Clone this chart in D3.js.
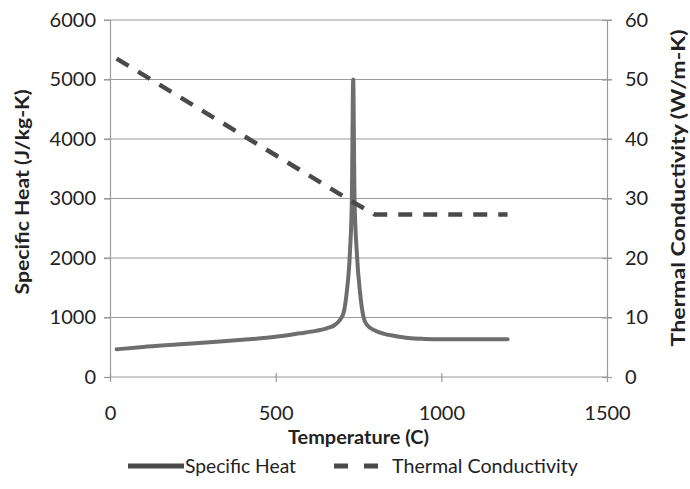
<!DOCTYPE html>
<html>
<head>
<meta charset="utf-8">
<script src="https://cdn.jsdelivr.net/npm/d3@7"></script>
<style>
  html, body { margin: 0; padding: 0; background: #fff; }
  svg { display: block; }
  text { font-family: Lato, "Open Sans", sans-serif; fill: #222; }
</style>
</head>
<body>
<svg id="chart" width="690" height="489"></svg>
<script>
// ---- data ----
const cpTemps = [20, 100, 200, 300, 400, 500, 573, 620, 654, 680, 694, 705, 714, 724, 730, 734, 738, 745, 755, 765, 775, 800, 825, 860, 900, 950, 1000, 1100, 1200];
const cpValues = [465, 505, 545, 585, 625, 675, 734, 775, 818, 880, 960, 1080, 1400, 2080, 3000, 5000, 3000, 2080, 1400, 1010, 880, 780, 730, 690, 655, 640, 635, 635, 635];
const kTemps = [20, 730, 800, 1200];
const kValues = [53.5, 29.5, 27.3, 27.3];
const xTicks = [0, 500, 1000, 1500];
const yLeftTicks = [0, 1000, 2000, 3000, 4000, 5000, 6000];
const yRightTicks = [0, 10, 20, 30, 40, 50, 60];
const seriesNames = ["Specific Heat", "Thermal Conductivity"];
const xTitle = "Temperature (C)";
const yLeftTitle = "Specific Heat (J/kg-K)";
const yRightTitle = "Thermal Conductivity (W/m-K)";

// ---- layout ----
const svg = d3.select("#chart");
const L = 110, R = 607, T = 20, B = 377;
const x = d3.scaleLinear().domain([0, 1500]).range([L, R]);
const yL = d3.scaleLinear().domain([0, 6000]).range([B, T]);
const yR = d3.scaleLinear().domain([0, 60]).range([B, T]);

const gridColor = "#9a9a9a";

// gridlines
svg.append("g").selectAll("line").data(yLeftTicks.filter(d => d > 0)).join("line")
  .attr("x1", L - 6).attr("x2", R + 5)
  .attr("y1", d => yL(d)).attr("y2", d => yL(d))
  .attr("stroke", gridColor).attr("stroke-width", 1.2);

// left axis
const gLeft = svg.append("g").attr("transform", `translate(${L},0)`)
  .call(d3.axisLeft(yL).tickValues(yLeftTicks).tickSize(6).tickPadding(8).tickFormat(d3.format("d")));
// right axis
const gRight = svg.append("g").attr("transform", `translate(${R},0)`)
  .call(d3.axisRight(yR).tickValues(yRightTicks).tickSize(5).tickPadding(13).tickFormat(d3.format("d")));
// bottom axis
const gBottom = svg.append("g").attr("transform", `translate(0,${B})`)
  .call(d3.axisBottom(x).tickValues(xTicks).tickSize(5).tickPadding(24).tickFormat(d3.format("d")));

[gLeft, gRight, gBottom].forEach(g => {
  g.select(".domain").attr("stroke", gridColor).attr("stroke-width", 1.2);
  g.selectAll(".tick line").attr("stroke", gridColor).attr("stroke-width", 1.2);
  g.selectAll(".tick text").attr("font-size", 20).attr("font-family", "Lato, sans-serif").attr("fill", "#222");
});
gRight.selectAll(".tick line").attr("x1", -5);
gBottom.selectAll(".tick line").attr("y1", -4);
gBottom.select(".domain").attr("d", `M${L},0H${R}`);

// lines
const cpData = cpTemps.map((t, i) => [t, cpValues[i]]);
const kData = kTemps.map((t, i) => [t, kValues[i]]);

svg.append("path").datum(cpData)
  .attr("fill", "none").attr("stroke", "#6e6e6e").attr("stroke-width", 4)
  .attr("stroke-linejoin", "round").attr("stroke-linecap", "round")
  .attr("d", d3.line().x(d => x(d[0])).y(d => yL(d[1])).curve(d3.curveMonotoneX));

svg.append("path").datum(kData)
  .attr("fill", "none").attr("stroke", "#4a4a4a").attr("stroke-width", 4.5)
  .attr("stroke-dasharray", "14,11")
  .attr("d", d3.line().x(d => x(d[0])).y(d => yR(d[1])));

// axis titles
svg.append("text").attr("x", (L + R) / 2).attr("y", 444)
  .attr("text-anchor", "middle").attr("font-size", 19).attr("font-weight", "bold")
  .attr("textLength", 141).attr("lengthAdjust", "spacingAndGlyphs").text(xTitle);
svg.append("text").attr("transform", `translate(29,192) rotate(-90)`)
  .attr("text-anchor", "middle").attr("font-size", 19).attr("font-weight", "bold")
  .attr("textLength", 205).attr("lengthAdjust", "spacingAndGlyphs").text(yLeftTitle);
svg.append("text").attr("transform", `translate(685,188) rotate(-90)`)
  .attr("text-anchor", "middle").attr("font-size", 19).attr("font-weight", "bold")
  .attr("textLength", 317).attr("lengthAdjust", "spacingAndGlyphs").text(yRightTitle);

// legend
const lg = svg.append("g");
lg.append("line").attr("x1", 128).attr("x2", 184).attr("y1", 466).attr("y2", 466)
  .attr("stroke", "#4a4a4a").attr("stroke-width", 5);
lg.append("text").attr("x", 185).attr("y", 473).attr("font-size", 19)
  .attr("textLength", 111).attr("lengthAdjust", "spacingAndGlyphs").text(seriesNames[0]);
lg.append("line").attr("x1", 334).attr("x2", 378).attr("y1", 466).attr("y2", 466)
  .attr("stroke", "#4a4a4a").attr("stroke-width", 5).attr("stroke-dasharray", "14,16");
lg.append("text").attr("x", 392).attr("y", 473).attr("font-size", 19)
  .attr("textLength", 186).attr("lengthAdjust", "spacingAndGlyphs").text(seriesNames[1]);
</script>
</body>
</html>
